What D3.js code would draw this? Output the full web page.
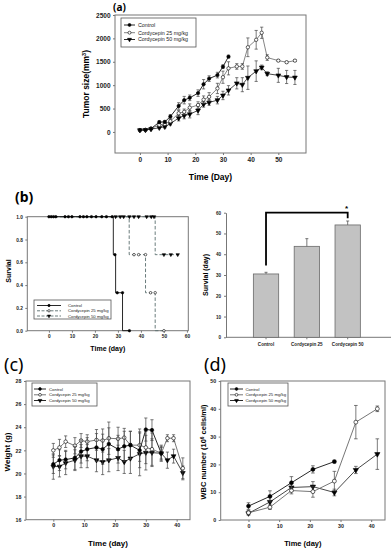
<!DOCTYPE html>
<html>
<head>
<meta charset="utf-8">
<script src="https://cdn.jsdelivr.net/npm/d3@7"></script>
<style>
body { margin: 0; background: #fff; }
text { font-family: Arial, "Liberation Sans", sans-serif; }
</style>
</head>
<body>
<div id="chart"></div>
<script>
// (a) tumor size
var tumorDays = [0,2,4,7,9,11,14,16,18,21,23,25,28,30,32,35,37,39,42,44,46,50,53,56];
var tumorControl = [40,45,70,210,215,330,555,680,730,830,1020,1140,1215,1395,1610];
var tumorControlErr = [10,10,15,30,30,40,70,80,60,70,100,60,60,40,30];
var tumorC25 = [38,42,75,150,170,230,400,430,520,575,690,750,930,1170,1360,1400,1400,1810,1970,2120,1590,1525,1490,1525];
var tumorC25Err = [8,10,15,25,30,40,60,60,80,70,80,90,110,130,140,60,60,200,200,120,60,20,20,20];
var tumorC50 = [38,42,60,90,110,180,295,350,380,460,590,630,680,780,890,1040,1010,1160,1300,1380,1245,1210,1175,1165];
var tumorC50Err = [8,10,10,20,25,30,60,70,80,90,60,60,80,90,100,120,150,250,220,50,40,150,140,150];

// (b) survival curves (step points) and censor marks
var kmControlT = [0,28,29,32,35];
var kmControlS = [1,0.667,0.333,0,0];
var kmC25T = [0,34.9,42,46.2,50];
var kmC25S = [1,0.667,0.333,0,0];
var kmC50T = [0,46.2,56];
var kmC50S = [1,0.667,0.667];
var markControlT = [0,1,2,3,7,8.5,10,13.5,15,16.5,18.5,20.5,23,25,27.5,28.7,29.7,32,35];
var markControlS = [1,1,1,1,1,1,1,1,1,1,1,1,1,1,1,0.667,0.333,0.333,0];
var markC25T = [37,39,42,44.2,46.2,50];
var markC25S = [0.667,0.667,0.667,0.333,0.333,0];
var markC50T = [29,31,32.5,35,37,39,42.5,44.5,45.7,50,53,56];
var markC50S = [1,1,1,1,1,1,1,1,1,0.667,0.667,0.667];

// (b) survival days bar chart
var barLabels = ["Control","Cordycepin 25","Cordycepin 50"];
var barMeans = [30.5,43.8,54.1];
var barErr = [0.8,3.7,1.9];

// (c) body weight
var weightDays = [0,2,4,7,9,11,14,16,18,21,23,25,28,30,32,35,37,39,42];
var weightControl = [20.8,21.15,21.2,21.35,21.9,22.1,22.25,22.1,22.55,22.1,22.35,22.45,22.0,23.8,23.75,21.75];
var weightControlErr = [0.8,0.9,0.8,1.0,1.0,1.0,1.2,1.3,1.4,1.2,1.3,1.2,1.5,1.0,0.9,0.6];
var weightC25 = [22.0,22.25,22.75,22.4,22.85,22.75,22.9,22.85,23.05,23.0,23.1,22.45,22.45,22.25,22.1,21.75,23.05,23.05,20.45];
var weightC25Err = [0.6,0.7,0.5,0.7,0.6,0.6,0.9,1.0,1.4,1.0,0.8,1.2,1.4,1.4,1.4,0.7,0.3,0.3,0.9];
var weightC50 = [20.6,20.6,20.9,21.15,21.5,21.5,21.15,21.0,21.15,21.35,21.0,21.3,21.7,21.8,21.8,21.75,21.15,21.5,20.05];
var weightC50Err = [1.1,0.9,1.0,0.9,1.0,1.0,1.0,1.1,1.0,1.1,1.0,1.3,1.9,1.5,1.2,0.5,0.7,0.6,0.6];

// (d) WBC number
var wbcDays = [0,7,14,21,28,35,42];
var wbcControl = [5.0,8.5,13.4,18.2,21.0];
var wbcControlErr = [1.2,2.0,2.2,1.3,0.5];
var wbcC25 = [2.6,4.6,10.6,10.2,14.0,35.2,40.0];
var wbcC25Err = [0.8,0.8,1.2,2.0,3.5,6.0,1.0];
var wbcC50 = [2.4,6.5,11.7,12.0,9.9,18.0,23.7];
var wbcC50Err = [0.5,2.0,1.5,1.8,1.2,1.3,5.5];

var legendNames = ["Control","Cordycepin 25 mg/kg","Cordycepin 50 mg/kg"];

var svg = d3.select("#chart").append("svg")
    .attr("width", 392)
    .attr("height", 550);

/**
 * Draws a marker symbol.
 */
var marker = function(g, kind, cx, cy, size) {
  var sym = kind == "tri" ? d3.symbolTriangle : d3.symbolCircle;
  var p = g.append("path")
      .attr("d", d3.symbol().type(sym).size(size)())
      .attr("transform", "translate(" + cx + "," + cy + ")" + (kind == "tri" ? " rotate(180)" : ""))
      .attr("stroke", "#000")
      .attr("stroke-width", 0.6)
      .attr("fill", kind == "open" ? "#fff" : "#000");
  return p;
};

/**
 * Frame with box and left/bottom axes.
 */
var framePanel = function(p) {
  var x = d3.scaleLinear().domain(p.xDomain).range([p.left, p.right]);
  var y = d3.scaleLinear().domain(p.yDomain).range([p.bottom, p.top]);
  var g = svg.append("g");

  g.append("rect")
      .attr("x", p.left).attr("y", p.top)
      .attr("width", p.right - p.left).attr("height", p.bottom - p.top)
      .attr("fill", "none").attr("stroke", "#777").attr("stroke-width", 1);

  var ya = g.append("g")
      .attr("transform", "translate(" + p.left + ",0)")
      .call(d3.axisLeft(y).tickValues(p.yTicks).tickSize(2).tickSizeOuter(0).tickPadding(2.5)
        .tickFormat(p.yFormat || d3.format("d")));
  var xa = g.append("g")
      .attr("transform", "translate(0," + p.bottom + ")")
      .call(d3.axisBottom(x).tickValues(p.xTicks).tickSize(2).tickSizeOuter(0).tickPadding(2)
        .tickFormat(d3.format("d")));
  [ya, xa].forEach(function(a) {
    a.select(".domain").remove();
    a.selectAll("line").attr("stroke", "#777");
    a.selectAll("text")
        .style("font-size", p.tickFont + "px")
        .style("font-weight", "bold")
        .attr("fill", "#222");
  });

  g.append("text")
      .attr("x", (p.left + p.right) / 2)
      .attr("y", p.xTitleY)
      .attr("text-anchor", "middle")
      .style("font-size", p.titleFont + "px")
      .style("font-weight", "bold")
      .text(p.xTitle);

  var yt = g.append("text")
      .attr("transform", "translate(" + p.yTitleX + "," + p.yTitleY + ") rotate(-90)")
      .attr("text-anchor", "middle")
      .style("font-size", p.titleFont + "px")
      .style("font-weight", "bold");
  yt.append("tspan").text(p.yTitle);
  if (p.yTitleSup) {
    yt.append("tspan").attr("baseline-shift", "super").style("font-size", (p.titleFont * 0.65) + "px").text(p.yTitleSup);
    yt.append("tspan").text(p.yTitleTail);
  }
  return {x: x, y: y, g: g};
};

/**
 * Line series with error bars.
 */
var drawSeries = function(panel, days, vals, errs, kind, color, size, cap) {
  var pts = vals.map(function(v, i) { return {d: days[i], v: v, e: errs[i]}; });
  var line = d3.line()
      .x(function(d) { return panel.x(d.d); })
      .y(function(d) { return panel.y(d.v); });
  var g = panel.g.append("g");
  g.append("path")
      .datum(pts)
      .attr("d", line)
      .attr("fill", "none")
      .attr("stroke", color)
      .attr("stroke-width", 0.9);

  var eb = g.selectAll(".eb").data(pts).enter().append("g");
  eb.append("line")
      .attr("x1", function(d) { return panel.x(d.d); })
      .attr("x2", function(d) { return panel.x(d.d); })
      .attr("y1", function(d) { return panel.y(d.v - d.e); })
      .attr("y2", function(d) { return panel.y(d.v + d.e); })
      .attr("stroke", "#444").attr("stroke-width", 0.7);
  [-1, 1].forEach(function(s) {
    eb.append("line")
        .attr("x1", function(d) { return panel.x(d.d) - cap; })
        .attr("x2", function(d) { return panel.x(d.d) + cap; })
        .attr("y1", function(d) { return panel.y(d.v + s * d.e); })
        .attr("y2", function(d) { return panel.y(d.v + s * d.e); })
        .attr("stroke", "#444").attr("stroke-width", 0.7);
  });
  pts.forEach(function(d) {
    marker(g, kind, panel.x(d.d), panel.y(d.v), size);
  });
};

/**
 * Legend box.
 */
var drawLegend = function(box, kinds, colors, dashes, font, size) {
  var g = svg.append("g");
  g.append("rect")
      .attr("x", box.x).attr("y", box.y).attr("width", box.w).attr("height", box.h)
      .attr("fill", "#fff").attr("stroke", "#555").attr("stroke-width", 0.8);
  legendNames.forEach(function(name, i) {
    var cy = box.rows[i];
    g.append("line")
        .attr("x1", box.lx0).attr("x2", box.lx1).attr("y1", cy).attr("y2", cy)
        .attr("stroke", colors[i]).attr("stroke-width", 0.9)
        .attr("stroke-dasharray", dashes[i]);
    marker(g, kinds[i], (box.lx0 + box.lx1) / 2, cy, size);
    g.append("text")
        .attr("x", box.tx).attr("y", cy)
        .attr("dy", "0.35em")
        .style("font-size", font + "px")
        .attr("fill", "#222")
        .text(name);
  });
};

var panelLabel = function(txt, x, y, size, weight) {
  svg.append("text")
      .attr("x", x).attr("y", y)
      .style("font-size", size + "px")
      .style("font-weight", weight)
      .style("font-family", "'Noto Sans', Arial, sans-serif")
      .text(txt);
};

// ---------- (a) ----------
var pa = framePanel({
  left: 115, right: 306, top: 15, bottom: 153,
  xDomain: [-9, 60], yDomain: [-450, 2500],
  xTicks: [0,10,20,30,40,50], yTicks: [0,500,1000,1500,2000,2500],
  tickFont: 6.5, titleFont: 8.5,
  xTitle: "Time (Day)", xTitleY: 180,
  yTitle: "Tumor size(mm", yTitleSup: "3", yTitleTail: ")", yTitleX: 89, yTitleY: 84
});
drawSeries(pa, tumorDays, tumorC50, tumorC50Err, "tri", "#333", 10, 1.6);
drawSeries(pa, tumorDays, tumorC25, tumorC25Err, "open", "#777", 9, 1.6);
drawSeries(pa, tumorDays, tumorControl, tumorControlErr, "filled", "#111", 9, 1.6);
drawLegend({x: 121, y: 18, w: 75, h: 29, lx0: 124, lx1: 135, tx: 138, rows: [25, 32.7, 39.5]},
  ["filled", "open", "tri"], ["#111", "#777", "#111"], [null, null, null], 5.3, 7);
panelLabel("(a)", 113, 11, 10, "bold");

// ---------- (b) left: survival ----------
var pb = framePanel({
  left: 27.3, right: 188.3, top: 216.7, bottom: 330.7,
  xDomain: [-9.4, 60.6], yDomain: [0, 1],
  xTicks: [0,10,20,30,40,50,60], yTicks: [0,0.2,0.4,0.6,0.8,1.0],
  yFormat: d3.format(".1f"),
  tickFont: 4.8, titleFont: 7,
  xTitle: "Time (day)", xTitleY: 351,
  yTitle: "Survial", yTitleX: 10.5, yTitleY: 271
});
var km = function(ts, ss, color, dash) {
  var pts = ts.map(function(t, i) { return [t, ss[i]]; });
  pb.g.append("path")
      .datum(pts)
      .attr("d", d3.line().curve(d3.curveStepAfter)
        .x(function(d) { return pb.x(d[0]); })
        .y(function(d) { return pb.y(d[1]); }))
      .attr("fill", "none")
      .attr("stroke", color)
      .attr("stroke-width", 0.9)
      .attr("stroke-dasharray", dash);
};
km(kmC25T, kmC25S, "#5a6e6e", "3.5,2");
km(kmC50T, kmC50S, "#5a6e6e", "3.5,2");
km(kmControlT, kmControlS, "#111", null);
markC25T.forEach(function(t, i) { marker(pb.g, "open", pb.x(t), pb.y(markC25S[i]), 5); });
markC50T.forEach(function(t, i) { marker(pb.g, "tri", pb.x(t), pb.y(markC50S[i]), 5); });
markControlT.forEach(function(t, i) { marker(pb.g, "filled", pb.x(t), pb.y(markControlS[i]), 5); });
drawLegend({x: 34, y: 300, w: 77, h: 19, lx0: 37, lx1: 61, tx: 68, rows: [305.5, 310.8, 316]},
  ["filled", "open", "tri"], ["#111", "#5a6e6e", "#5a6e6e"], [null, "3,1.5", "3,1.5"], 4.3, 4.5);
panelLabel("(b)", 15, 202, 14, "bold");

// ---------- (b) right: bars ----------
var bx = d3.scaleBand().domain(barLabels).range([245.6, 368.1]).paddingInner(0.38).paddingOuter(0.19);
var by = d3.scaleLinear().domain([0, 60]).range([337.3, 212.7]);
var gb = svg.append("g");
var bya = gb.append("g").attr("transform", "translate(226,0)")
    .call(d3.axisLeft(by).tickValues([0,10,20,30,40,50,60]).tickSize(2).tickSizeOuter(0).tickPadding(3));
bya.select(".domain").attr("stroke", "#777");
gb.append("line").attr("x1", 226).attr("x2", 391).attr("y1", by(0)).attr("y2", by(0)).attr("stroke", "#777");
var bxa = gb.append("g").attr("transform", "translate(0," + by(0) + ")")
    .call(d3.axisBottom(bx).tickSize(2).tickSizeOuter(0).tickPadding(3));
bxa.select(".domain").remove();
[bya, bxa].forEach(function(a) {
  a.selectAll("line").attr("stroke", "#777");
  a.selectAll("text").style("font-size", "4.6px").style("font-weight", "bold").attr("fill", "#222");
});
gb.selectAll(".bar").data(barMeans).enter().append("rect")
    .attr("x", function(d, i) { return bx(barLabels[i]); })
    .attr("y", function(d) { return by(d); })
    .attr("width", bx.bandwidth())
    .attr("height", function(d) { return by(0) - by(d); })
    .attr("fill", "#c2c2c2")
    .attr("stroke", "#6a6a6a")
    .attr("stroke-width", 0.8);
barMeans.forEach(function(m, i) {
  var cx = bx(barLabels[i]) + bx.bandwidth() / 2;
  gb.append("line").attr("x1", cx).attr("x2", cx).attr("y1", by(m)).attr("y2", by(m + barErr[i]))
      .attr("stroke", "#555").attr("stroke-width", 0.8);
  gb.append("line").attr("x1", cx - 1.5).attr("x2", cx + 1.5).attr("y1", by(m + barErr[i])).attr("y2", by(m + barErr[i]))
      .attr("stroke", "#555").attr("stroke-width", 0.8);
});
var c0 = bx(barLabels[0]) + bx.bandwidth() / 2;
var c2 = bx(barLabels[2]) + bx.bandwidth() / 2;
gb.append("path")
    .attr("d", "M" + c0 + "," + by(34.6) + "V" + by(60) + "H" + c2 + "V" + by(57.3))
    .attr("fill", "none").attr("stroke", "#000").attr("stroke-width", 1.8);
gb.append("text").attr("x", c2 - 1).attr("y", by(60) - 1.5).attr("text-anchor", "middle")
    .style("font-size", "8px").style("font-weight", "bold").text("*");
gb.append("text")
    .attr("transform", "translate(207.5,275) rotate(-90)")
    .attr("text-anchor", "middle")
    .style("font-size", "7px")
    .style("font-weight", "bold")
    .text("Survial (day)");

// ---------- (c) ----------
var pc = framePanel({
  left: 26, right: 190, top: 381, bottom: 519.7,
  xDomain: [-8.86, 44.33], yDomain: [16, 28],
  xTicks: [0,10,20,30,40], yTicks: [16,18,20,22,24,26,28],
  tickFont: 5.3, titleFont: 8,
  xTitle: "Time (day)", xTitleY: 546,
  yTitle: "Weight (g)", yTitleX: 10, yTitleY: 452
});
drawSeries(pc, weightDays, weightC50, weightC50Err, "tri", "#333", 10, 1.6);
drawSeries(pc, weightDays, weightC25, weightC25Err, "open", "#666", 10, 1.6);
drawSeries(pc, weightDays, weightControl, weightControlErr, "filled", "#111", 10, 1.6);
drawLegend({x: 32, y: 383, w: 65, h: 23, lx0: 34, lx1: 46, tx: 49, rows: [389, 394.8, 400.5]},
  ["filled", "open", "tri"], ["#111", "#666", "#111"], [null, null, null], 4.3, 6);
panelLabel("(c)", 4, 371, 18, "normal");

// ---------- (d) ----------
var pd = framePanel({
  left: 220.7, right: 385, top: 381, bottom: 520,
  xDomain: [-9.06, 44.5], yDomain: [0, 50],
  xTicks: [0,10,20,30,40], yTicks: [0,10,20,30,40,50],
  tickFont: 5.3, titleFont: 7.5,
  xTitle: "Time (day)", xTitleY: 546,
  yTitle: "WBC number (10", yTitleSup: "6", yTitleTail: " cells/ml)", yTitleX: 206, yTitleY: 452
});
drawSeries(pd, wbcDays, wbcC50, wbcC50Err, "tri", "#333", 12, 1.8);
drawSeries(pd, wbcDays, wbcC25, wbcC25Err, "open", "#666", 12, 1.8);
drawSeries(pd, wbcDays, wbcControl, wbcControlErr, "filled", "#111", 12, 1.8);
drawLegend({x: 228, y: 383, w: 60, h: 23, lx0: 230, lx1: 243, tx: 245.5, rows: [389, 394.8, 400.5]},
  ["filled", "open", "tri"], ["#111", "#666", "#111"], [null, null, null], 4.3, 6);
panelLabel("(d)", 204, 371, 18, "normal");
</script>
</body>
</html>
